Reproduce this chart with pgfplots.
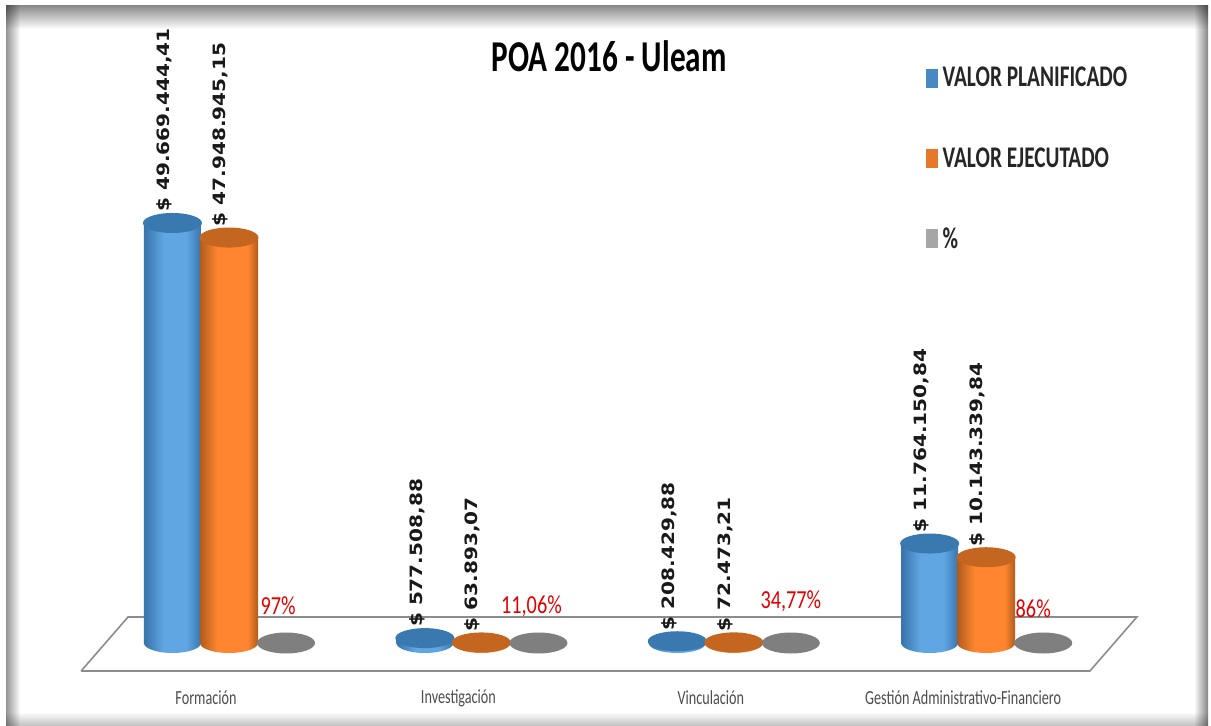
\documentclass[border=0pt]{standalone}
\usepackage{pgfplots}
\usepackage{pgfplotstable}
\usepackage{fontspec}
\pgfplotsset{compat=1.18}
\setmainfont{Carlito}
\newfontfamily\narrowfont[FakeStretch=0.78]{Carlito}
\newfontfamily\slimfont[FakeStretch=0.71]{Carlito}
\newfontfamily\valfont[FakeStretch=1.18]{DejaVu Sans}
\definecolor{bluemid}{HTML}{5FA6E3}
\definecolor{blueedge}{HTML}{3A76AD}
\definecolor{bluetop}{HTML}{3A78B0}
\definecolor{orangemid}{HTML}{FF8530}
\definecolor{orangeedge}{HTML}{B05C1C}
\definecolor{orangetop}{HTML}{C4661F}
\definecolor{grayell}{HTML}{7F7F7F}
\definecolor{floorline}{HTML}{8C8C8C}
\pgfdeclarehorizontalshading{cylblue}{100bp}{color(0bp)=(blueedge); color(26bp)=(blueedge); color(42bp)=(bluemid); color(62bp)=(bluemid); color(75bp)=(blueedge); color(100bp)=(blueedge)}
\pgfdeclarehorizontalshading{cylorange}{100bp}{color(0bp)=(orangeedge); color(25bp)=(orangeedge); color(40bp)=(orangemid); color(66bp)=(orangemid); color(75bp)=(orangeedge); color(100bp)=(orangeedge)}
\pgfdeclareplotmark{basblue}{\path[draw=none,shading=cylblue,rotate=7] (0pt,0pt) ellipse (28.5pt and 10pt);}
\pgfdeclareplotmark{basorange}{\path[draw=none,shading=cylorange,rotate=7] (0pt,0pt) ellipse (29pt and 10pt);}
\pgfdeclareplotmark{topblue}{\path[draw=none,fill=bluetop,rotate=8] (0pt,0pt) ellipse (29.5pt and 10pt);}
\pgfdeclareplotmark{toporange}{\path[draw=none,fill=orangetop,rotate=8] (0pt,0pt) ellipse (29.5pt and 10pt);}
\pgfdeclareplotmark{topgray}{\path[draw=none,fill=grayell,rotate=8] (0pt,0pt) ellipse (29pt and 10.5pt);}
\pgfplotstableread{
x v lab
0 49669444.41 49.669.444,41
1 577508.88 577.508,88
2 208429.88 208.429,88
3 11764150.84 11.764.150,84
}\tblblue
\pgfplotstableread{
x v lab
0 47948945.15 47.948.945,15
1 63893.07 63.893,07
2 72473.21 72.473,21
3 10143339.84 10.143.339,84
}\tblorange
\pgfplotstableread{
x v lab dx dy
0 0.97 97 -8 37
1 0.1106 11,06 -7 37
2 0.3477 34,77 0 42
3 0.86 86 -10 34
}\tblgray
\begin{document}
\begin{tikzpicture}[x=1pt,y=1pt]
\useasboundingbox (0,0) rectangle (1211,726);
% screenshot frame
\begin{scope}[blend mode=multiply]
\shade[top color=black!45,bottom color=white] (6,720) rectangle (1208,697);
\shade[left color=black!42,right color=white] (6,720) rectangle (20,0);
\shade[left color=white,right color=black!48] (1194,720) rectangle (1208,0);
\shade[top color=white,bottom color=black!25] (6,14) rectangle (1208,0);
\end{scope}
\begin{axis}[
  at={(0pt,0pt)},anchor=south west,
  scale only axis,width=1211pt,height=726pt,
  xmin=-0.9073,xmax=3.8906,ymin=-9815000,ymax=76040000,
  axis line style={draw=none},
  major tick length=0pt,
  ytick=\empty,
  xtick={-0.091,0.909,1.909,2.909},
  xticklabels={Formación,Investigación,Vinculación,Gestión Administrativo-Financiero},
  xticklabel style={font=\slimfont\fontsize{20}{22}\selectfont,text=black!70,anchor=center,yshift=28pt,inner sep=0pt},
  title={\slimfont\fontsize{44}{50}\selectfont\bfseries POA 2016 - Uleam},
  title style={at={(0.503,0.914)},anchor=center,inner sep=0pt},
  clip=false,
  legend style={at={(926pt,659pt)},anchor=north west,draw=none,fill=none,inner sep=0pt,
    font=\slimfont\fontsize{30}{34}\selectfont\bfseries,text=black!85,
    cells={anchor=west},row sep=59pt,nodes={inner sep=0pt}},
  legend cell align=left,
]
% floor
\addplot[forget plot,draw=floorline,line width=1.6pt] coordinates {
 (-0.586,-3311000) (-0.400,3075000) (3.597,3075000) (3.411,-3311000) (-0.586,-3311000)};
% blue
\addplot[forget plot,only marks,mark=basblue] table[x expr=\thisrow{x}-0.224,y expr=0] \tblblue;
\pgfplotsinvokeforeach{0,1,2,3}{
\addplot[forget plot,ybar,bar width=57pt,bar shift=0pt,draw=none,shading=cylblue,
  restrict expr to domain={\thisrow{x}}{#1:#1}] table[x expr=\thisrow{x}-0.224,y=v] \tblblue;
}
\addplot[forget plot,only marks,mark=topblue,
  nodes near coords={\$ \pgfplotspointmeta},point meta=explicit symbolic,
  every node near coord/.style={font=\valfont\fontsize{17}{20}\selectfont\bfseries,text=black!90,inner sep=0pt,xshift=-8pt,yshift=11pt,rotate=90,anchor=west}]
  table[x expr=\thisrow{x}-0.224,y=v,meta=lab] \tblblue;
% orange
\addplot[forget plot,only marks,mark=basorange] table[x=x,y expr=0] \tblorange;
\pgfplotsinvokeforeach{0,1,2,3}{
\addplot[forget plot,ybar,bar width=58pt,bar shift=0pt,draw=none,shading=cylorange,
  restrict expr to domain={\thisrow{x}}{#1:#1}] table[x=x,y=v] \tblorange;
}
\addplot[forget plot,only marks,mark=toporange,
  nodes near coords={\$ \pgfplotspointmeta},point meta=explicit symbolic,
  every node near coord/.style={font=\valfont\fontsize{17}{20}\selectfont\bfseries,text=black!90,inner sep=0pt,xshift=-9pt,yshift=11pt,rotate=90,anchor=west}]
  table[x=x,y=v,meta=lab] \tblorange;
% gray
\addplot[forget plot,only marks,mark=topgray,
  visualization depends on={\thisrow{dx}\as\dxv},
  visualization depends on={\thisrow{dy}\as\dyv},
  nodes near coords={\pgfplotspointmeta\%},point meta=explicit symbolic,
  every node near coord/.style={font=\narrowfont\fontsize{26}{30}\selectfont,text=red!90!black,inner sep=0pt,anchor=center,xshift=\dxv pt,yshift=\dyv pt}]
  table[x expr=\thisrow{x}+0.226,y=v,meta=lab] \tblgray;
% legend
\addlegendimage{legend image code/.code={\fill[blueedge!60!bluemid] (0pt,-9pt) rectangle (11pt,9pt);}}
\addlegendentry{\hspace{5pt}VALOR PLANIFICADO}
\addlegendimage{legend image code/.code={\fill[orangemid!90!black] (0pt,-9pt) rectangle (11pt,9pt);}}
\addlegendentry{\hspace{5pt}VALOR EJECUTADO}
\addlegendimage{legend image code/.code={\fill[black!35] (0pt,-9pt) rectangle (11pt,9pt);}}
\addlegendentry{\hspace{5pt}\%}
\end{axis}
\end{tikzpicture}
\end{document}
